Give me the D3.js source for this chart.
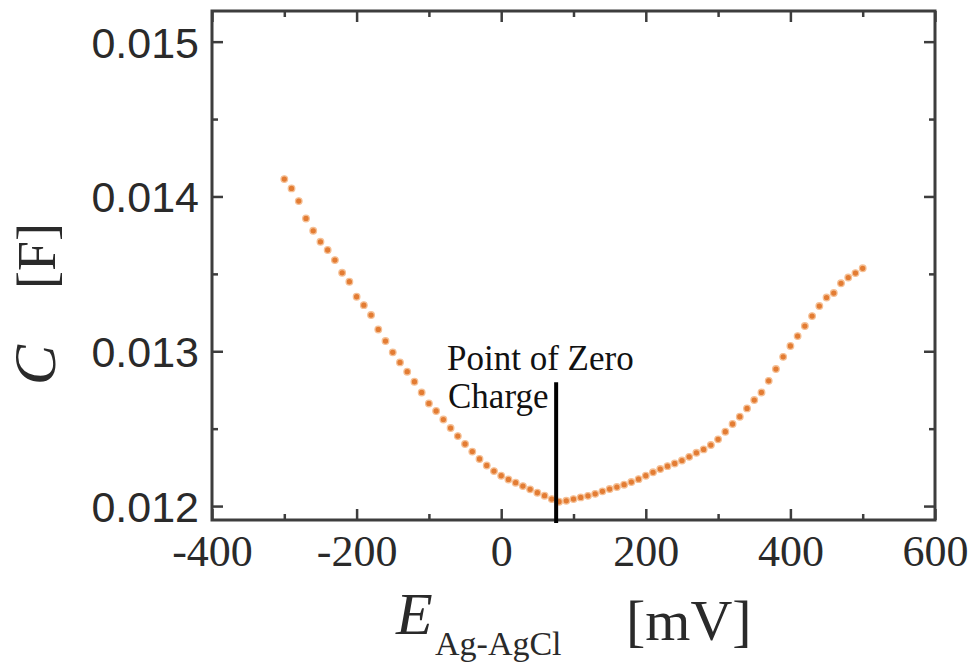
<!DOCTYPE html>
<html>
<head>
<meta charset="utf-8">
<script src="https://cdn.jsdelivr.net/npm/d3@7/dist/d3.min.js"></script>
<style>
  html, body { margin: 0; padding: 0; background: #fff; }
  svg { display: block; }
</style>
</head>
<body>
<svg id="chart" width="972" height="662"></svg>
<script>
// ---- data ----
const potential_mV = [
  -300,-290,-280,-270,-260,-250,-240,-230,-220,-210,
  -200,-190,-180,-170,-160,-150,-140,-130,-120,-110,
  -100,-90,-80,-70,-60,-50,-40,-30,-20,-10,
  0,10,20,30,40,50,60,70,80,90,
  100,110,120,130,140,150,160,170,180,190,
  200,210,220,230,240,250,260,270,280,290,
  300,310,320,330,340,350,360,370,380,390,
  400,410,420,430,440,450,460,470,480,490,
  500
];
const capacitance_F = [
  0.014112,0.014052,0.013970,0.013858,0.013778,0.013707,0.013654,0.013589,0.013507,0.013449,
  0.013352,0.013298,0.013234,0.013141,0.013066,0.012993,0.012928,0.012868,0.012803,0.012734,
  0.012663,0.012614,0.012559,0.012504,0.012452,0.012401,0.012352,0.012304,0.012262,0.012226,
  0.012196,0.012172,0.012151,0.012129,0.012108,0.012086,0.012067,0.012045,0.012028,0.012034,
  0.012045,0.012056,0.012066,0.012079,0.012095,0.012110,0.012123,0.012138,0.012155,0.012174,
  0.012196,0.012218,0.012239,0.012258,0.012275,0.012294,0.012318,0.012344,0.012366,0.012394,
  0.012431,0.012480,0.012530,0.012577,0.012631,0.012685,0.012734,0.012809,0.012885,0.012964,
  0.013034,0.013098,0.013163,0.013227,0.013292,0.013347,0.013376,0.013439,0.013476,0.013505,
  0.013536
];
const xMajorTicks = [-400, -200, 0, 200, 400, 600];
const xMinorTicks = [-300, -100, 100, 300, 500];
const yMajorTicks = [0.012, 0.013, 0.014, 0.015];
const yMinorTicks = [0.0125, 0.0135, 0.0145];
const xDomain = [-400, 600];
const yDomain = [0.01191, 0.015198];
const pzcPotential = 76;      // mV
const pzcTop = 0.0128;        // F, top of the marker line
const pzcLabel = ["Point of Zero", "Charge"];

// ---- layout ----
const L = 212, R = 935, T = 11, B = 520;
const svg = d3.select("#chart");
const x = d3.scaleLinear().domain(xDomain).range([L, R]);
const y = d3.scaleLinear().domain(yDomain).range([B, T]);

const frameColor = "#3d3d3d";
const textColor = "#2a2a2a";

function styleAxis(g) {
  g.select(".domain").remove();
  g.selectAll(".tick line").attr("stroke", frameColor).attr("stroke-width", 2.5);
}

// bottom axis (major with labels)
const gB = svg.append("g").attr("transform", `translate(0,${B})`)
  .call(d3.axisBottom(x).tickValues(xMajorTicks).tickSizeInner(-11).tickSizeOuter(0)
        .tickFormat(d => d < 0 ? "-" + Math.abs(d) : String(d)));
styleAxis(gB);
gB.selectAll(".tick text")
  .attr("y", 46).attr("dy", null)
  .attr("fill", textColor)
  .style("font-family", "'Liberation Serif','Times New Roman',serif")
  .style("font-size", "44px");
svg.append("g").attr("transform", `translate(0,${B})`)
  .call(d3.axisBottom(x).tickValues(xMinorTicks).tickSizeInner(-6).tickSizeOuter(0).tickFormat(""))
  .call(styleAxis);

// top axis
svg.append("g").attr("transform", `translate(0,${T})`)
  .call(d3.axisTop(x).tickValues(xMajorTicks).tickSizeInner(-11).tickSizeOuter(0).tickFormat(""))
  .call(styleAxis);
svg.append("g").attr("transform", `translate(0,${T})`)
  .call(d3.axisTop(x).tickValues(xMinorTicks).tickSizeInner(-6).tickSizeOuter(0).tickFormat(""))
  .call(styleAxis);

// left axis
const gL = svg.append("g").attr("transform", `translate(${L},0)`)
  .call(d3.axisLeft(y).tickValues(yMajorTicks).tickSizeInner(-11).tickSizeOuter(0)
        .tickFormat(d3.format(".3f")));
styleAxis(gL);
gL.selectAll(".tick text")
  .attr("x", -13).attr("dy", "0.36em")
  .attr("fill", textColor)
  .style("font-family", "'Liberation Sans',Arial,sans-serif")
  .style("font-size", "43px");
svg.append("g").attr("transform", `translate(${L},0)`)
  .call(d3.axisLeft(y).tickValues(yMinorTicks).tickSizeInner(-6).tickSizeOuter(0).tickFormat(""))
  .call(styleAxis);

// right axis
svg.append("g").attr("transform", `translate(${R},0)`)
  .call(d3.axisRight(y).tickValues(yMajorTicks).tickSizeInner(-11).tickSizeOuter(0).tickFormat(""))
  .call(styleAxis);
svg.append("g").attr("transform", `translate(${R},0)`)
  .call(d3.axisRight(y).tickValues(yMinorTicks).tickSizeInner(-6).tickSizeOuter(0).tickFormat(""))
  .call(styleAxis);

// frame
svg.append("rect")
  .attr("x", L).attr("y", T).attr("width", R - L).attr("height", B - T)
  .attr("fill", "none").attr("stroke", frameColor).attr("stroke-width", 3);

// data points
const pts = potential_mV.map((v, i) => ({ e: v, c: capacitance_F[i] }));
svg.append("g").selectAll("circle").data(pts).join("circle")
  .attr("cx", d => x(d.e)).attr("cy", d => y(d.c))
  .attr("r", 3.3)
  .attr("fill", "#e37c33")
  .attr("stroke", "#f5c096").attr("stroke-width", 1.3);

// point of zero charge marker
svg.append("line")
  .attr("x1", x(pzcPotential)).attr("x2", x(pzcPotential))
  .attr("y1", y(pzcTop)).attr("y2", B + 3)
  .attr("stroke", "#000").attr("stroke-width", 4);
const ann = svg.append("text")
  .attr("fill", "#111")
  .style("font-family", "'Liberation Serif','Times New Roman',serif")
  .style("font-size", "35px");
ann.append("tspan").attr("x", 447).attr("y", 370).text(pzcLabel[0]);
ann.append("tspan").attr("x", 448).attr("y", 408).text(pzcLabel[1]);

// x axis title
const xt = svg.append("text").attr("fill", textColor)
  .style("font-family", "'Liberation Serif','Times New Roman',serif");
xt.append("tspan").attr("x", 396).attr("y", 634)
  .style("font-style", "italic").style("font-size", "60px").text("E");
xt.append("tspan").attr("x", 435).attr("y", 655)
  .style("font-size", "34px").text("Ag-AgCl");
xt.append("tspan").attr("x", 626).attr("y", 640)
  .style("font-size", "58px").text("[mV]");

// y axis title
const yt = svg.append("text").attr("fill", textColor)
  .attr("transform", "translate(55,0) rotate(-90)")
  .style("font-family", "'Liberation Serif','Times New Roman',serif");
yt.append("tspan").attr("x", -385).attr("y", 0)
  .style("font-style", "italic").style("font-size", "60px").text("C");
yt.append("tspan").attr("x", -289).attr("y", 0)
  .style("font-size", "54px").text("[F]");
</script>
</body>
</html>
